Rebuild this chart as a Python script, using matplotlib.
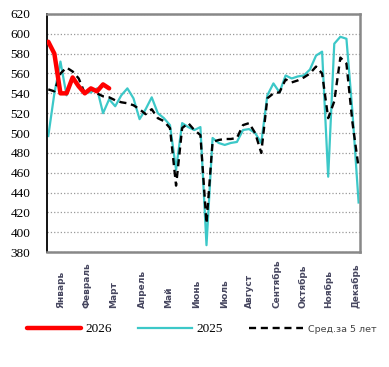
import matplotlib.pyplot as plt
import matplotlib.transforms as mtransforms
import numpy as np

# недельные данные (52 недели)
weeks = np.arange(52)

y2025 = [497, 540, 572, 538, 556, 548, 541, 541, 545, 520,
         534, 527, 538, 545, 535, 514, 524, 536, 520, 515,
         508, 463, 510, 506, 503, 506, 387, 495, 490, 488,
         490, 491, 503, 504, 500, 490, 538, 550, 541, 558,
         555, 557, 558, 564, 578, 582, 456, 590, 597, 595,
         520, 430]

avg5 = [544, 542, 560, 566, 562, 555, 540, 545, 540, 537,
        536, 533, 531, 530, 528, 524, 519, 524, 515, 512,
        505, 447, 505, 510, 503, 498, 409, 491, 493, 494,
        494, 495, 508, 510, 500, 480, 535, 540, 541, 554,
        551, 553, 556, 560, 567, 560, 515, 532, 576, 570,
        510, 465]

y2026 = [592, 580, 540, 540, 556, 547, 540, 545, 542, 549, 545]

months = ["Январь", "Февраль", "Март", "Апрель", "Май", "Июнь",
          "Июль", "Август", "Сентябрь", "Октябрь", "Ноябрь", "Декабрь"]
month_pos = [2, 6.4, 10.7, 15.5, 19.8, 24.3, 28.9, 33, 37.6, 41.8, 46.1, 50.6]

fig = plt.figure(figsize=(3.89, 3.67), dpi=100)
ax = fig.add_axes([0.121, 0.313, 0.804, 0.649])

ax.plot(weeks[:len(y2026)], y2026, color="#ff0000", lw=3.2, label="2026", zorder=4,
        solid_capstyle="round")
ax.plot(weeks, y2025, color="#3cc8c8", lw=1.6, label="2025", zorder=2)
ax.plot(weeks, avg5, color="black", lw=1.7, ls=(0, (3, 2)), label="Сред.за 5 лет", zorder=3)

ax.set_ylim(380, 620)
ax.set_xlim(-0.2, 51.2)
ax.set_yticks(np.arange(380, 621, 20))
ax.set_xticks([])
ax.grid(axis="y", color="#999999", ls=":", lw=0.9)
ax.set_axisbelow(True)
ax.tick_params(axis="y", length=0, pad=12)
for lab in ax.get_yticklabels():
    lab.set_family("Liberation Serif")
    lab.set_fontsize(9.5)

ax.spines["left"].set_color("black")
ax.spines["left"].set_linewidth(1.3)
for s in ["top", "right", "bottom"]:
    ax.spines[s].set_color("#888888")
    ax.spines[s].set_linewidth(1.8)

# подписи месяцев снизу
trans = mtransforms.blended_transform_factory(ax.transData, fig.transFigure)
for p, m in zip(month_pos, months):
    ax.text(p, 1 - 308 / 367, m, transform=trans, rotation=90, ha="center", va="bottom",
            fontsize=6.5, fontweight="bold", color="#474760", family="DejaVu Sans")

leg = fig.legend(loc="center", bbox_to_anchor=(0.518, 1 - 329 / 367), ncol=3,
                 frameon=False, handlelength=3.9, columnspacing=1.9, handletextpad=0.3,
                 borderpad=0, borderaxespad=0)
texts = leg.get_texts()
texts[0].set_family("Liberation Serif")
texts[0].set_fontsize(9.5)
texts[1].set_family("Liberation Serif")
texts[1].set_fontsize(9.5)
texts[2].set_family("DejaVu Sans")
texts[2].set_fontsize(6.8)
texts[2].set_color("#444444")

fig.savefig("out.png", dpi=100)
